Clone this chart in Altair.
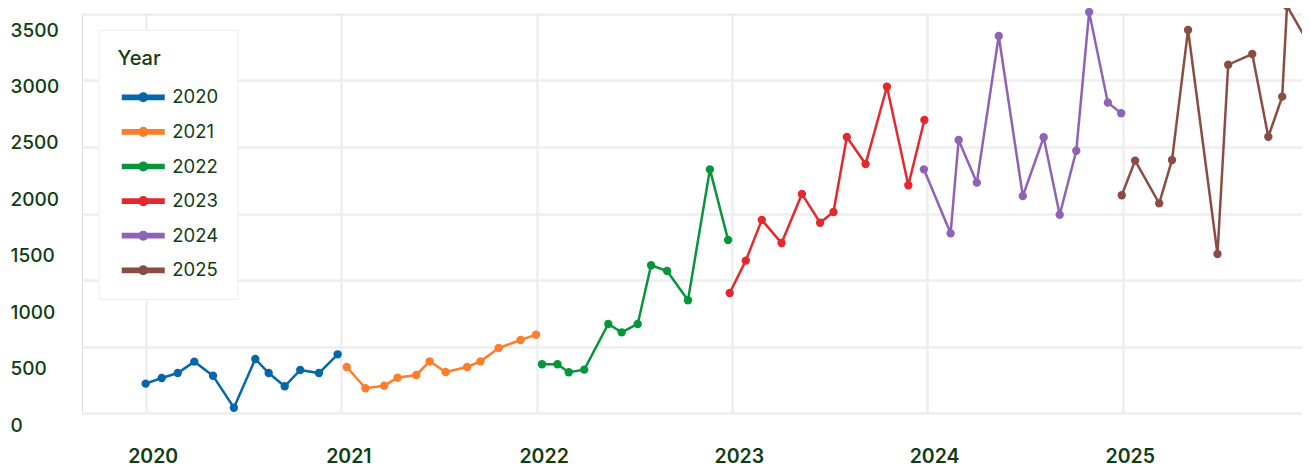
import altair as alt
import pandas as pd

# ---------------- data ----------------
years = ["2020", "2021", "2022", "2023", "2024", "2025"]
colors = ["#0567a7", "#fd7e2a", "#06953a", "#e3292e", "#9062b5", "#8a4d43"]

dates_2020 = ["2020-01-01", "2020-01-31", "2020-03-01", "2020-04-01", "2020-05-06", "2020-06-14",
              "2020-07-24", "2020-08-18", "2020-09-17", "2020-10-16", "2020-11-20", "2020-12-25"]
vals_2020 = [260, 310, 354, 455, 330, 47, 479, 354, 237, 381, 354, 520]

dates_2021 = ["2021-01-11", "2021-02-15", "2021-03-22", "2021-04-16", "2021-05-21", "2021-06-15",
              "2021-07-15", "2021-08-24", "2021-09-18", "2021-10-22", "2021-12-02", "2021-12-31"]
vals_2021 = [408, 219, 242, 313, 337, 458, 363, 408, 458, 576, 647, 694]

dates_2022 = ["2022-01-11", "2022-02-09", "2022-03-02", "2022-03-31", "2022-05-15", "2022-06-09",
              "2022-07-09", "2022-08-03", "2022-09-02", "2022-10-11", "2022-11-21", "2022-12-25"]
vals_2022 = [432, 432, 361, 384, 789, 715, 789, 1309, 1258, 999, 2159, 1533]

dates_2023 = ["2022-12-28", "2023-01-27", "2023-02-26", "2023-04-04", "2023-05-12", "2023-06-15",
              "2023-07-10", "2023-08-04", "2023-09-08", "2023-10-18", "2023-11-27", "2023-12-27"]
vals_2023 = [1063, 1350, 1710, 1506, 1941, 1686, 1781, 2446, 2206, 2891, 2018, 2596]

dates_2024 = ["2023-12-26", "2024-02-14", "2024-02-29", "2024-04-03", "2024-05-14", "2024-06-28",
              "2024-08-06", "2024-09-05", "2024-10-06", "2024-10-30", "2024-12-04", "2024-12-29"]
vals_2024 = [2159, 1592, 2419, 2041, 3341, 1923, 2443, 1757, 2324, 3553, 2750, 2656]

dates_2025 = ["2024-12-30", "2025-01-24", "2025-03-10", "2025-04-03", "2025-05-03", "2025-06-27",
              "2025-07-17", "2025-08-31", "2025-09-30", "2025-10-26", "2025-11-04", "2025-12-17"]
vals_2025 = [1929, 2236, 1858, 2242, 3394, 1409, 3086, 3181, 2448, 2803, 3606, 3252]

y_label_values = [0, 500, 1000, 1500, 2000, 2500, 3000, 3500]
grid_values = [0, 500, 1000, 1500, 2000, 2500, 3000]
x_tick_years = [2020, 2021, 2022, 2023, 2024, 2025]

series = [
    ("2020", dates_2020, vals_2020),
    ("2021", dates_2021, vals_2021),
    ("2022", dates_2022, vals_2022),
    ("2023", dates_2023, vals_2023),
    ("2024", dates_2024, vals_2024),
    ("2025", dates_2025, vals_2025),
]
rows = []
for yr, ds, vs in series:
    for d, v in zip(ds, vs):
        rows.append({"date": d, "value": v, "year": yr})
df = pd.DataFrame(rows)
grid_df = pd.DataFrame({"g": grid_values})

# ---------------- style ----------------
TEXT = "#0f3d12"
GRID = "#eeeeee"
FONT = "Inter"

legend_symbol = ("M-4.3,0L4.3,0M-0.44,0A0.44,0.44,0,1,1,0.44,0"
                 "A0.44,0.44,0,1,1,-0.44,0Z")

x_enc = alt.X(
    "date:T",
    scale=alt.Scale(
        type="utc",
        domain=[alt.DateTime(year=2019, month=9, date=4, utc=True),
                alt.DateTime(year=2025, month=12, date=2, utc=True)],
        nice=False,
    ),
    axis=alt.Axis(
        values=[alt.DateTime(year=y, month=1, date=1, utc=True) for y in x_tick_years],
        format="%Y",
        grid=True, gridColor=GRID, gridWidth=2.5,
        ticks=False, tickSize=0, domain=False,
        labelFont=FONT, labelFontSize=19.5, labelFontWeight=600, labelColor=TEXT,
        labelPadding=34, labelOffset=7, labelFlush=False,
        title=None,
    ),
)

lines = alt.Chart(df).mark_line(
    strokeWidth=2.5,
    point=alt.OverlayMarkDef(size=70, filled=True, opacity=1),
).encode(
    x=x_enc,
    y=alt.Y(
        "value:Q",
        scale=alt.Scale(domain=[0, 3535.5], nice=False, zero=True),
        axis=alt.Axis(
            values=y_label_values, format="d", grid=False, ticks=False, tickSize=0, domain=False,
            labelAlign="left", labelPadding=72, labelOffset=12,
            labelFont=FONT, labelFontSize=19, labelFontWeight=500, labelColor=TEXT,
            title=None, orient="left",
        ),
    ),
    color=alt.Color(
        "year:N",
        scale=alt.Scale(domain=years, range=colors),
        legend=alt.Legend(
            title="Year", orient="none", legendX=16.5, legendY=15.8,
            fillColor="white", strokeColor=GRID, padding=19,
            titleFont=FONT, titleFontSize=20, titleFontWeight=500, titleColor=TEXT,
            titlePadding=21,
            labelFont=FONT, labelFontSize=18.5, labelColor=TEXT,
            symbolType=legend_symbol, symbolSize=100, symbolStrokeWidth=5.7,
            symbolOffset=16.5, labelOffset=19.8, rowPadding=15.6, clipHeight=15,
        ),
    ),
)

grid = alt.Chart(grid_df).mark_point(opacity=0).encode(
    y=alt.Y(
        "g:Q",
        scale=alt.Scale(domain=[0, 3000], nice=False),
        axis=alt.Axis(values=grid_values, grid=True, gridColor=GRID, gridWidth=2.5,
                      labels=False, ticks=False, domain=False, title=None, orient="right"),
    )
)

chart = alt.layer(grid, lines).resolve_scale(y="independent").properties(
    width=1220, height=399,
    autosize=alt.AutoSizeParams(type="none"),
    padding={"left": 74, "top": 6, "right": 0, "bottom": 53},
).configure_view(stroke=None).configure_legend(strokeWidth=3).configure(background="white")

chart.save("out.html", embed_options={"renderer": "svg", "actions": False})
